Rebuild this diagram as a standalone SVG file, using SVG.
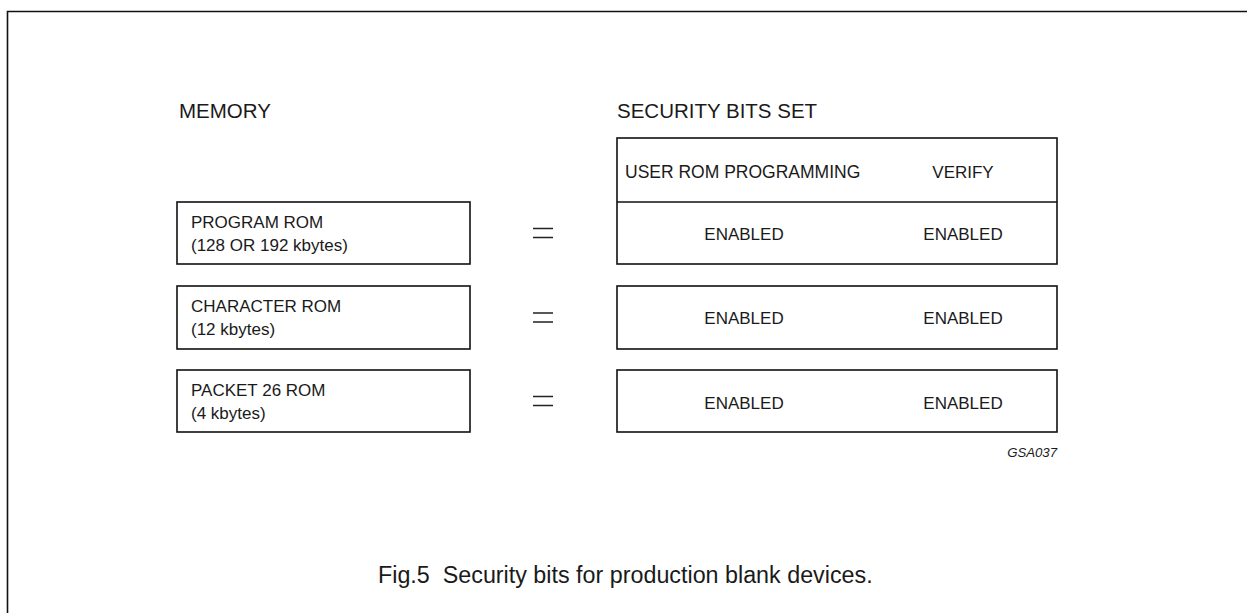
<svg xmlns="http://www.w3.org/2000/svg" width="1247" height="613" viewBox="0 0 1247 613">
<style>
.t{font-family:"Liberation Sans",Arial,sans-serif;fill:#1a1a1a}
.b{fill:none;stroke:#111;stroke-width:1.6}
.s17{font-size:17px}
.s20{font-size:20.5px}
.c{text-anchor:middle}
.eq{stroke:#222;stroke-width:1.5}
</style>
<rect width="1247" height="613" fill="#fff"/>
<path d="M7.5,613 V11.5 H1247" fill="none" stroke="#111" stroke-width="1.6"/>
<text class="t s20" x="179" y="118">MEMORY</text>
<text class="t s20" x="617" y="118">SECURITY BITS SET</text>
<g id="mem-program">
<rect class="b" x="177" y="202" width="293" height="62"/>
<text class="t s17" x="191" y="228">PROGRAM ROM</text>
<text class="t s17" x="191" y="251">(128 OR 192 kbytes)</text>
</g>
<g id="mem-character">
<rect class="b" x="177" y="286" width="293" height="63"/>
<text class="t s17" x="191" y="312">CHARACTER ROM</text>
<text class="t s17" x="191" y="335">(12 kbytes)</text>
</g>
<g id="mem-packet">
<rect class="b" x="177" y="370" width="293" height="62"/>
<text class="t s17" x="191" y="396">PACKET 26 ROM</text>
<text class="t s17" x="191" y="419">(4 kbytes)</text>
</g>
<g id="sec-header">
<rect class="b" x="617" y="138" width="440" height="126"/>
<line class="b" x1="617" y1="202" x2="1057" y2="202"/>
<text class="t s17" x="625" y="178" style="font-size:17.5px">USER ROM PROGRAMMING</text>
<text class="t s17 c" x="963" y="178">VERIFY</text>
<text class="t s17 c" x="744" y="240">ENABLED</text>
<text class="t s17 c" x="963" y="240">ENABLED</text>
</g>
<g id="sec-character">
<rect class="b" x="617" y="286" width="440" height="63"/>
<text class="t s17 c" x="744" y="324">ENABLED</text>
<text class="t s17 c" x="963" y="324">ENABLED</text>
</g>
<g id="sec-packet">
<rect class="b" x="617" y="370" width="440" height="62"/>
<text class="t s17 c" x="744" y="409">ENABLED</text>
<text class="t s17 c" x="963" y="409">ENABLED</text>
</g>
<g id="connectors">
<path class="eq" d="M533,228.5 H553 M533,237.5 H553"/>
<path class="eq" d="M533,313 H553 M533,322 H553"/>
<path class="eq" d="M533,396.5 H553 M533,405.5 H553"/>
</g>
<text class="t" x="1057" y="457" text-anchor="end" style="font-size:13.2px;font-style:italic">GSA037</text>
<text class="t" x="378" y="583" style="font-size:23.3px" xml:space="preserve">Fig.5  Security bits for production blank devices.</text>
</svg>
